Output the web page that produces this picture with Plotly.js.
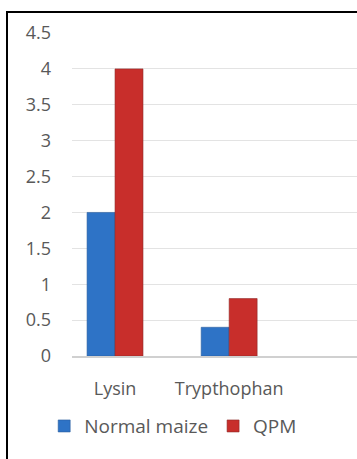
<!DOCTYPE html>
<html>
<head>
<meta charset="utf-8">
<script src="https://cdn.plot.ly/plotly-3.0.1.min.js"></script>
<style>
html,body{margin:0;padding:0;background:#fff;}
#wrap{position:relative;width:357px;height:459px;overflow:hidden;}
#chart{width:357px;height:459px;}
#frame{position:absolute;left:6px;top:11px;width:400px;height:500px;border-left:2.5px solid #000;border-top:2.5px solid #000;pointer-events:none;}
</style>
</head>
<body>
<div id="wrap">
<div id="chart"></div>
<div id="frame"></div>
</div>
<script>
var categories = ['Lysin', 'Trypthophan'];
var normalMaize = [2, 0.4];
var qpm = [4, 0.8];
var seriesNames = ['Normal maize', 'QPM'];

var font = {family: 'Open Sans, Liberation Sans, sans-serif', size: 18, color: '#595959'};

var traces = [
  {type: 'bar', name: seriesNames[0], x: categories, y: normalMaize,
   marker: {color: '#2E73C6', line: {color: '#2A5E9E', width: 0.6}}},
  {type: 'bar', name: seriesNames[1], x: categories, y: qpm,
   marker: {color: '#C82E2B', line: {color: '#8E2A28', width: 0.6}}}
];

var layout = {
  width: 357, height: 459,
  margin: {l: 72, r: 0, t: 33, b: 103},
  paper_bgcolor: '#fff', plot_bgcolor: '#fff',
  barmode: 'group', bargap: 0.51, bargroupgap: 0,
  font: font,
  showlegend: true,
  legend: {orientation: 'h', x: 0.355, xanchor: 'center', y: -0.217, yanchor: 'middle',
           font: {family: font.family, size: 19, color: '#595959'}, itemwidth: 30, traceorder: 'normal'},
  xaxis: {type: 'category', range: [-0.377, 2.12], showgrid: false, zeroline: false,
          showline: true, linecolor: '#d0d0d0', linewidth: 1.5, ticks: '', ticklabelstandoff: 16,
          tickfont: {family: font.family, size: 18, color: '#595959'}, fixedrange: true},
  yaxis: {range: [0, 4.5], dtick: 0.5, tick0: 0, showgrid: true, gridcolor: '#e3e3e3', gridwidth: 1.2,
          zeroline: false, showline: false, ticks: '', ticklabelstandoff: 20,
          tickfont: {family: font.family, size: 18, color: '#595959'}, fixedrange: true}
};

Plotly.newPlot('chart', traces, layout, {displayModeBar: false, staticPlot: true});
</script>
</body>
</html>
